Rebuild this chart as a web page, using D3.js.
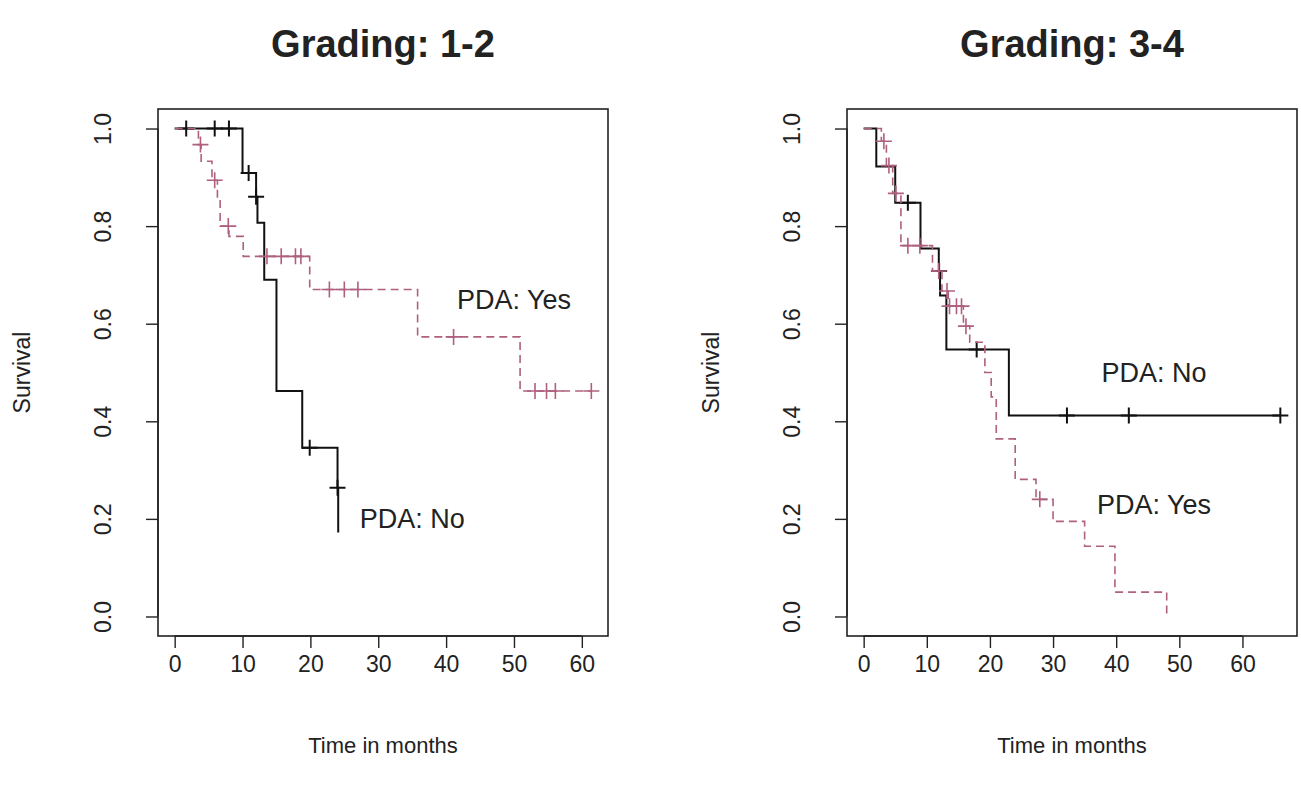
<!DOCTYPE html>
<html>
<head>
<meta charset="utf-8">
<script src="https://cdnjs.cloudflare.com/ajax/libs/d3/7.8.5/d3.min.js"></script>
<style>
  body { margin: 0; background: #fff; }
  text { font-family: "Liberation Sans", Arial, sans-serif; fill: #222; }
</style>
</head>
<body>
<script>
// ---- data ----
var xTicks = [0, 10, 20, 30, 40, 50, 60];
var yTicks = [0, 0.2, 0.4, 0.6, 0.8, 1.0];

// Grading 1-2, PDA: No (solid black)
var g12NoTime = [0, 10, 12, 12.2, 13.2, 15, 18.8, 24, 24.1];
var g12NoSurv = [1, 0.909, 0.86, 0.807, 0.69, 0.462, 0.346, 0.264, 0.172];
var g12NoCens = [1.7, 5.9, 8, 10.9, 12, 19.9, 24];

// Grading 1-2, PDA: Yes (dashed pink)
var g12YesTime = [0, 3.5, 3.9, 5.5, 6.3, 6.7, 8.0, 10.1, 19.9, 35.8, 50.9];
var g12YesSurv = [1, 0.967, 0.933, 0.894, 0.854, 0.80, 0.779, 0.738, 0.670, 0.573, 0.462];
var g12YesCens = [3.8, 5.9, 7.9, 13.6, 15.7, 17.8, 18.6, 22.8, 25.0, 27.0, 41.1, 53.1, 54.8, 56.1, 61.4];

// Grading 3-4, PDA: No (solid black)
var g34NoTime = [0, 2.0, 5.0, 9.0, 11.9, 12.1, 13.1, 23.0];
var g34NoSurv = [1, 0.922, 0.848, 0.754, 0.708, 0.658, 0.547, 0.412];
var g34NoCens = [7.0, 11.95, 17.9, 32.2, 42.0, 66];

// Grading 3-4, PDA: Yes (dashed pink)
var g34YesTime = [0, 2.8, 3.6, 4.6, 5.9, 10.9, 12.4, 13.4, 15.8, 16.8, 19.2, 20.2, 21.0, 24.0, 27.3, 30.0, 35.0, 39.8, 48.0];
var g34YesSurv = [1, 0.974, 0.924, 0.867, 0.760, 0.708, 0.667, 0.636, 0.595, 0.562, 0.50, 0.45, 0.364, 0.281, 0.240, 0.195, 0.144, 0.050, 0.0];
var g34YesCens = [3.2, 4.0, 5.1, 7.0, 8.9, 11.9, 13.2, 13.6, 14.7, 15.5, 16.2, 27.9];

var pink = "#b0607f";

var width = 1301, height = 787;
var svg = d3.select("body").append("svg")
    .attr("width", width)
    .attr("height", height);

var panels = [
    {
        title: "Grading: 1-2", left: 158, right: 608, xmax: 61.4,
        curves: [
            {time: g12NoTime, surv: g12NoSurv, cens: g12NoCens, color: "#111", dash: null, w: 2},
            {time: g12YesTime, surv: g12YesSurv, cens: g12YesCens, color: pink, dash: "8,5", w: 1.6}
        ],
        notes: [{text: "PDA: Yes", t: 50, s: 0.65}, {text: "PDA: No", t: 35, s: 0.2}]
    },
    {
        title: "Grading: 3-4", left: 847, right: 1297, xmax: 66,
        curves: [
            {time: g34NoTime, surv: g34NoSurv, cens: g34NoCens, color: "#111", dash: null, w: 2},
            {time: g34YesTime, surv: g34YesSurv, cens: g34YesCens, color: pink, dash: "8,5", w: 1.6}
        ],
        notes: [{text: "PDA: No", t: 46, s: 0.5}, {text: "PDA: Yes", t: 46, s: 0.23}]
    }
];

var boxTop = 109, boxBottom = 636;

// R style 4% range expansion
function expand(lo, hi) {
    var d = (hi - lo) * 0.04;
    return [lo - d, hi + d];
}

function survAt(time, surv, t) {
    var s = surv[0];
    for (var i = 0; i < time.length; i++) {
        if (time[i] <= t) s = surv[i];
    }
    return s;
}

panels.forEach(function (p) {
    var x = d3.scaleLinear().domain(expand(0, p.xmax)).range([p.left, p.right]);
    var y = d3.scaleLinear().domain(expand(0, 1)).range([boxBottom, boxTop]);
    var cx = (p.left + p.right) / 2;

    var g = svg.append("g");

    // box
    g.append("rect")
        .attr("x", p.left).attr("y", boxTop)
        .attr("width", p.right - p.left).attr("height", boxBottom - boxTop)
        .attr("fill", "none").attr("stroke", "#222").attr("stroke-width", 1.6);

    var xAxis = d3.axisBottom(x).tickValues(xTicks).tickSize(12).tickPadding(8).tickFormat(d3.format("d"));
    var yAxis = d3.axisLeft(y).tickValues(yTicks).tickSize(12).tickPadding(8).tickFormat(d3.format(".1f"));

    var gx = g.append("g").attr("transform", "translate(0," + boxBottom + ")").call(xAxis);
    gx.select(".domain").attr("d", "M" + x(0) + ",0H" + x(60)).attr("stroke", "#222").attr("stroke-width", 1.4);
    gx.selectAll(".tick line").attr("stroke", "#222").attr("stroke-width", 1.4);
    gx.selectAll(".tick text").attr("font-size", 23).style("font-family", "Liberation Sans, Arial, sans-serif").attr("fill", "#222");

    var gy = g.append("g").attr("transform", "translate(" + p.left + ",0)").call(yAxis);
    gy.select(".domain").attr("d", "M0," + y(0) + "V" + y(1)).attr("stroke", "#222").attr("stroke-width", 1.4);
    gy.selectAll(".tick line").attr("stroke", "#222").attr("stroke-width", 1.4);
    gy.selectAll(".tick text")
        .attr("font-size", 23)
        .style("font-family", "Liberation Sans, Arial, sans-serif")
        .attr("fill", "#222")
        .attr("text-anchor", "middle")
        .attr("x", null).attr("dy", null)
        .attr("transform", "translate(-55,0) rotate(-90) translate(0,8)");

    // curves
    p.curves.forEach(function (c) {
        var pts = c.time.map(function (t, i) { return [t, c.surv[i]]; });
        var lastCens = d3.max(c.cens);
        var lastTime = c.time[c.time.length - 1];
        if (lastCens > lastTime) pts.push([lastCens, c.surv[c.surv.length - 1]]);

        var line = d3.line()
            .x(function (d) { return x(d[0]); })
            .y(function (d) { return y(d[1]); })
            .curve(d3.curveStepAfter);

        g.append("path")
            .datum(pts)
            .attr("d", line)
            .attr("fill", "none")
            .attr("stroke", c.color)
            .attr("stroke-width", c.w)
            .attr("stroke-dasharray", c.dash);

        // censor marks
        g.selectAll(null)
            .data(c.cens)
            .enter()
            .append("path")
            .attr("d", function (t) {
                var px = x(t), py = y(survAt(c.time, c.surv, t));
                return "M" + (px - 8) + "," + py + "H" + (px + 8) + "M" + px + "," + (py - 8) + "V" + (py + 8);
            })
            .attr("stroke", c.color)
            .attr("stroke-width", c.w)
            .attr("fill", "none");
    });

    // annotations
    p.notes.forEach(function (n) {
        g.append("text")
            .attr("x", x(n.t)).attr("y", y(n.s))
            .attr("dy", "0.35em")
            .attr("text-anchor", "middle")
            .attr("font-size", 27)
            .text(n.text);
    });

    // titles
    g.append("text")
        .attr("x", cx).attr("y", 57)
        .attr("text-anchor", "middle")
        .attr("font-size", 38)
        .attr("font-weight", "bold")
        .attr("fill", "#111")
        .text(p.title);

    g.append("text")
        .attr("x", cx).attr("y", 753)
        .attr("text-anchor", "middle")
        .attr("font-size", 22)
        .text("Time in months");

    g.append("text")
        .attr("transform", "translate(" + (p.left - 128) + "," + ((boxTop + boxBottom) / 2) + ") rotate(-90)")
        .attr("text-anchor", "middle")
        .attr("font-size", 23)
        .text("Survival");
});
</script>
</body>
</html>
